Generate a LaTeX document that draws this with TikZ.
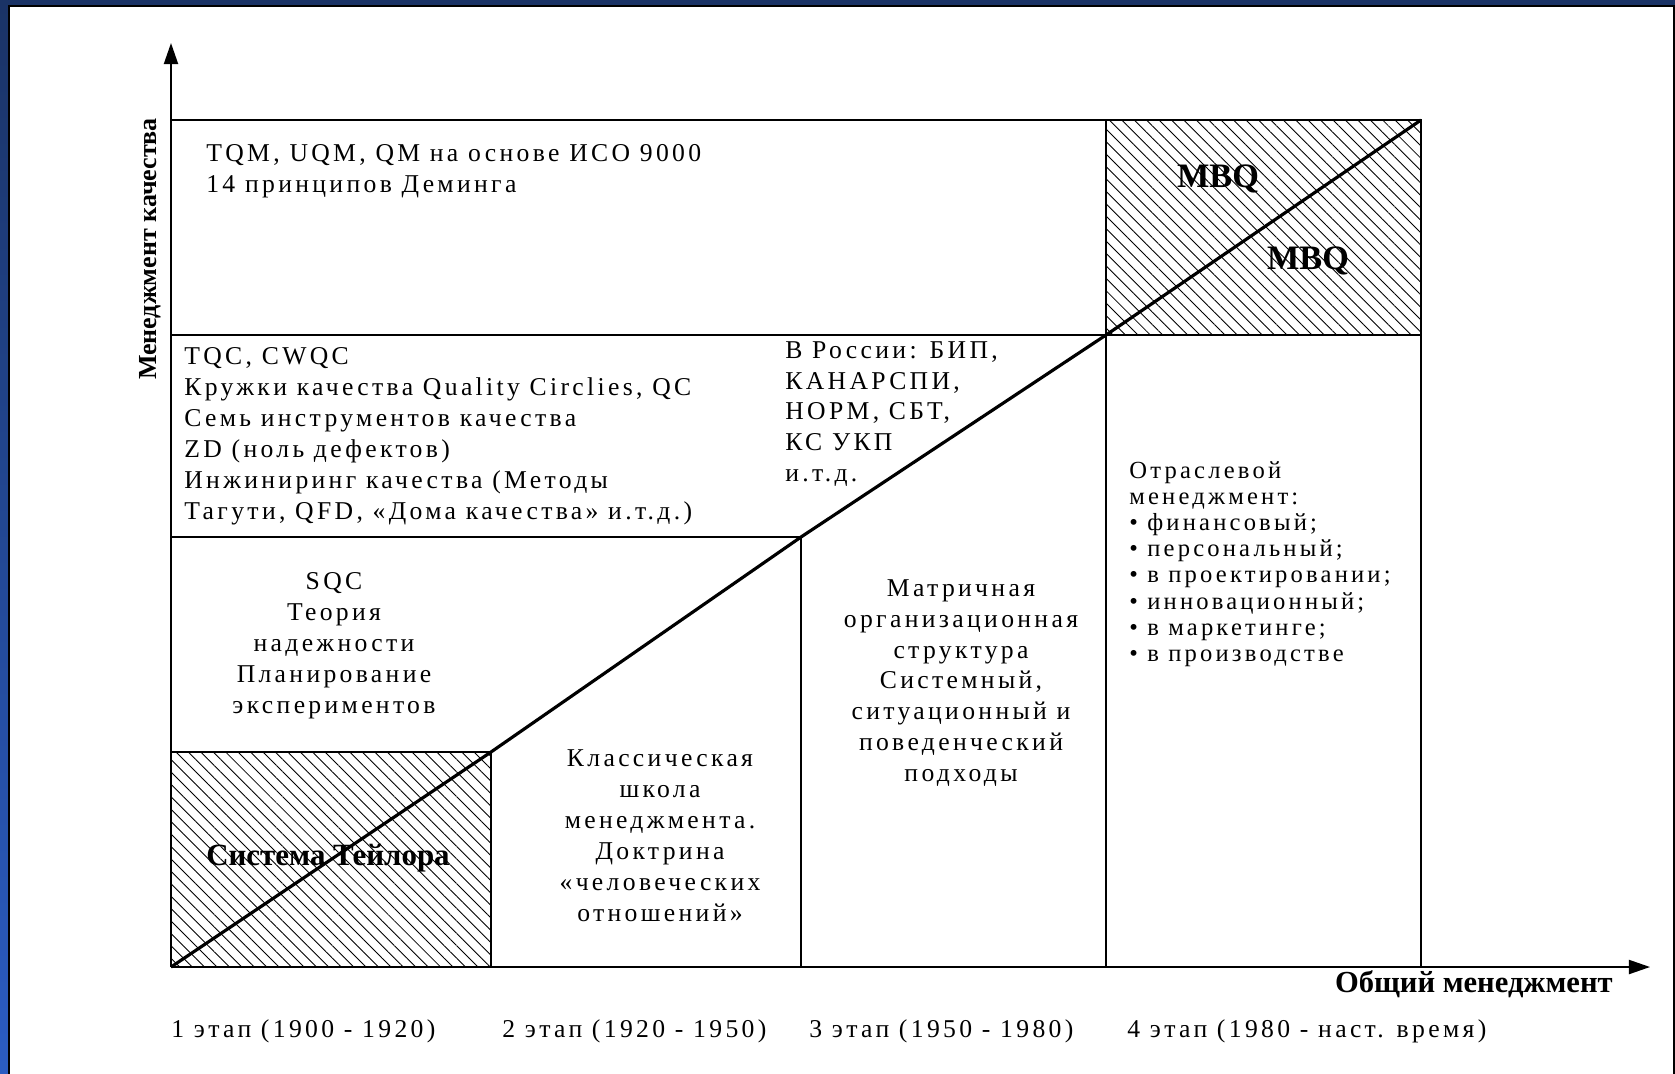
\documentclass[tikz,border=0pt]{standalone}
\usepackage{fontspec}
\setmainfont{Liberation Serif}
\newfontfamily\widefont[LetterSpace=13]{Liberation Serif}
\usepackage{tikz}
\usetikzlibrary{arrows.meta, patterns.meta}
\definecolor{slidetop}{HTML}{1A3366}
\definecolor{slidebottom}{HTML}{2B5CC2}

\tikzset{
  grid line/.style={line width=0.8pt},
  axis line/.style={line width=1.1pt, -{Triangle[length=12pt,width=8pt]}},
  trend line/.style={line width=1.8pt, line join=round},
  hatched/.style={pattern={Lines[angle=-45,distance=5pt,line width=0.5pt]}},
  era text/.style={inner sep=0pt, font=\widefont\fontsize{14.6}{17.6}\selectfont},
  branch text/.style={inner sep=0pt, font=\widefont\fontsize{14}{14.9}\selectfont},
  bold text/.style={inner sep=0pt, font=\bfseries\fontsize{#1}{#1}\selectfont},
}

\begin{document}
\begin{tikzpicture}[x=0.02cm, y=-0.02cm]
  \useasboundingbox (0,0) rectangle (1675,1073);
  % slide background
  \shade[top color=slidetop, bottom color=slidebottom] (0,0) rectangle (1675,1073);
  \draw[fill=white, line width=1.2pt] (9,6) rectangle (1674,1080);

  % axes and breakpoints of the trend
  \coordinate (o) at (171,967);
  \coordinate (ytip) at (171,43);
  \coordinate (xtip) at (1650,967);
  \coordinate (p1) at (491,752);
  \coordinate (p2) at (801,537);
  \coordinate (p3) at (1106,335);
  \coordinate (p4) at (1421,120);

  \fill[hatched] (o) rectangle (p1);
  \fill[hatched] (p3) rectangle (p4);

  \draw[grid line] (o |- p4) -- (p4) -- (p4 |- o);
  \draw[grid line] (o |- p3) -- (p4 |- p3);
  \draw[grid line] (p3 |- p4) -- (p3 |- o);
  \draw[grid line] (o |- p2) -- (p2) -- (p2 |- o);
  \draw[grid line] (o |- p1) -- (p1) -- (p1 |- o);

  \draw[axis line] (o) -- (ytip);
  \draw[axis line] (o) -- (xtip);
  \draw[trend line] (o) -- (p1) -- (p2) -- (p3) -- (p4);

  \node[era text, anchor=west, align=left] (tqm) at (206,171)
    {TQM, UQM, QM на основе ИСО 9000\\14 принципов Деминга};
  \node[era text, anchor=west, align=left] (tqc) at (184,436)
    {TQC, CWQC\\Кружки качества Quality Circlies, QC\\Семь инструментов качества\\ZD (ноль дефектов)\\Инжиниринг качества (Методы\\Тагути, QFD, «Дома качества» и.т.д.)};
  \node[era text, align=center] (sqc) at (334,646)
    {SQC\\Теория\\надежности\\Планирование\\экспериментов};
  \node[bold text=17.6] (taylor) at (328,858) {Система Тейлора};
  \node[era text, align=center] (classic) at (660,836)
    {Классическая\\школа\\менеджмента.\\Доктрина\\«человеческих\\отношений»};
  \node[era text, anchor=west, align=left] (russia) at (785,414)
    {В России: БИП,\\КАНАРСПИ,\\НОРМ, СБТ,\\КС УКП\\и.т.д.};
  \node[era text, align=center] (matrix) at (961,683)
    {Матричная\\организационная\\структура\\Системный,\\ситуационный и\\поведенческий\\подходы};
  \node[bold text=19.5] (mbqtop) at (1218,179) {MBQ};
  \node[bold text=19.5] (mbqbottom) at (1308,261) {MBQ};
  \node[branch text, anchor=west, align=left] (branch) at (1129,564)
    {Отраслевой\\менеджмент:\\• финансовый;\\• персональный;\\• в проектировании;\\• инновационный;\\• в маркетинге;\\• в производстве};

  \node[bold text=14.8, rotate=90] (ylabel) at (150,249) {Менеджмент качества};
  \node[bold text=17.4, anchor=east] (xlabel) at (1613,984) {Общий менеджмент};

  \node[era text, anchor=west] (stage1) at (171,1031) {1 этап (1900 - 1920)};
  \node[era text, anchor=west] (stage2) at (502,1031) {2 этап (1920 - 1950)};
  \node[era text, anchor=west] (stage3) at (809,1031) {3 этап (1950 - 1980)};
  \node[era text, anchor=west] (stage4) at (1127,1031) {4 этап (1980 - наст. время)};
\end{tikzpicture}
\end{document}
